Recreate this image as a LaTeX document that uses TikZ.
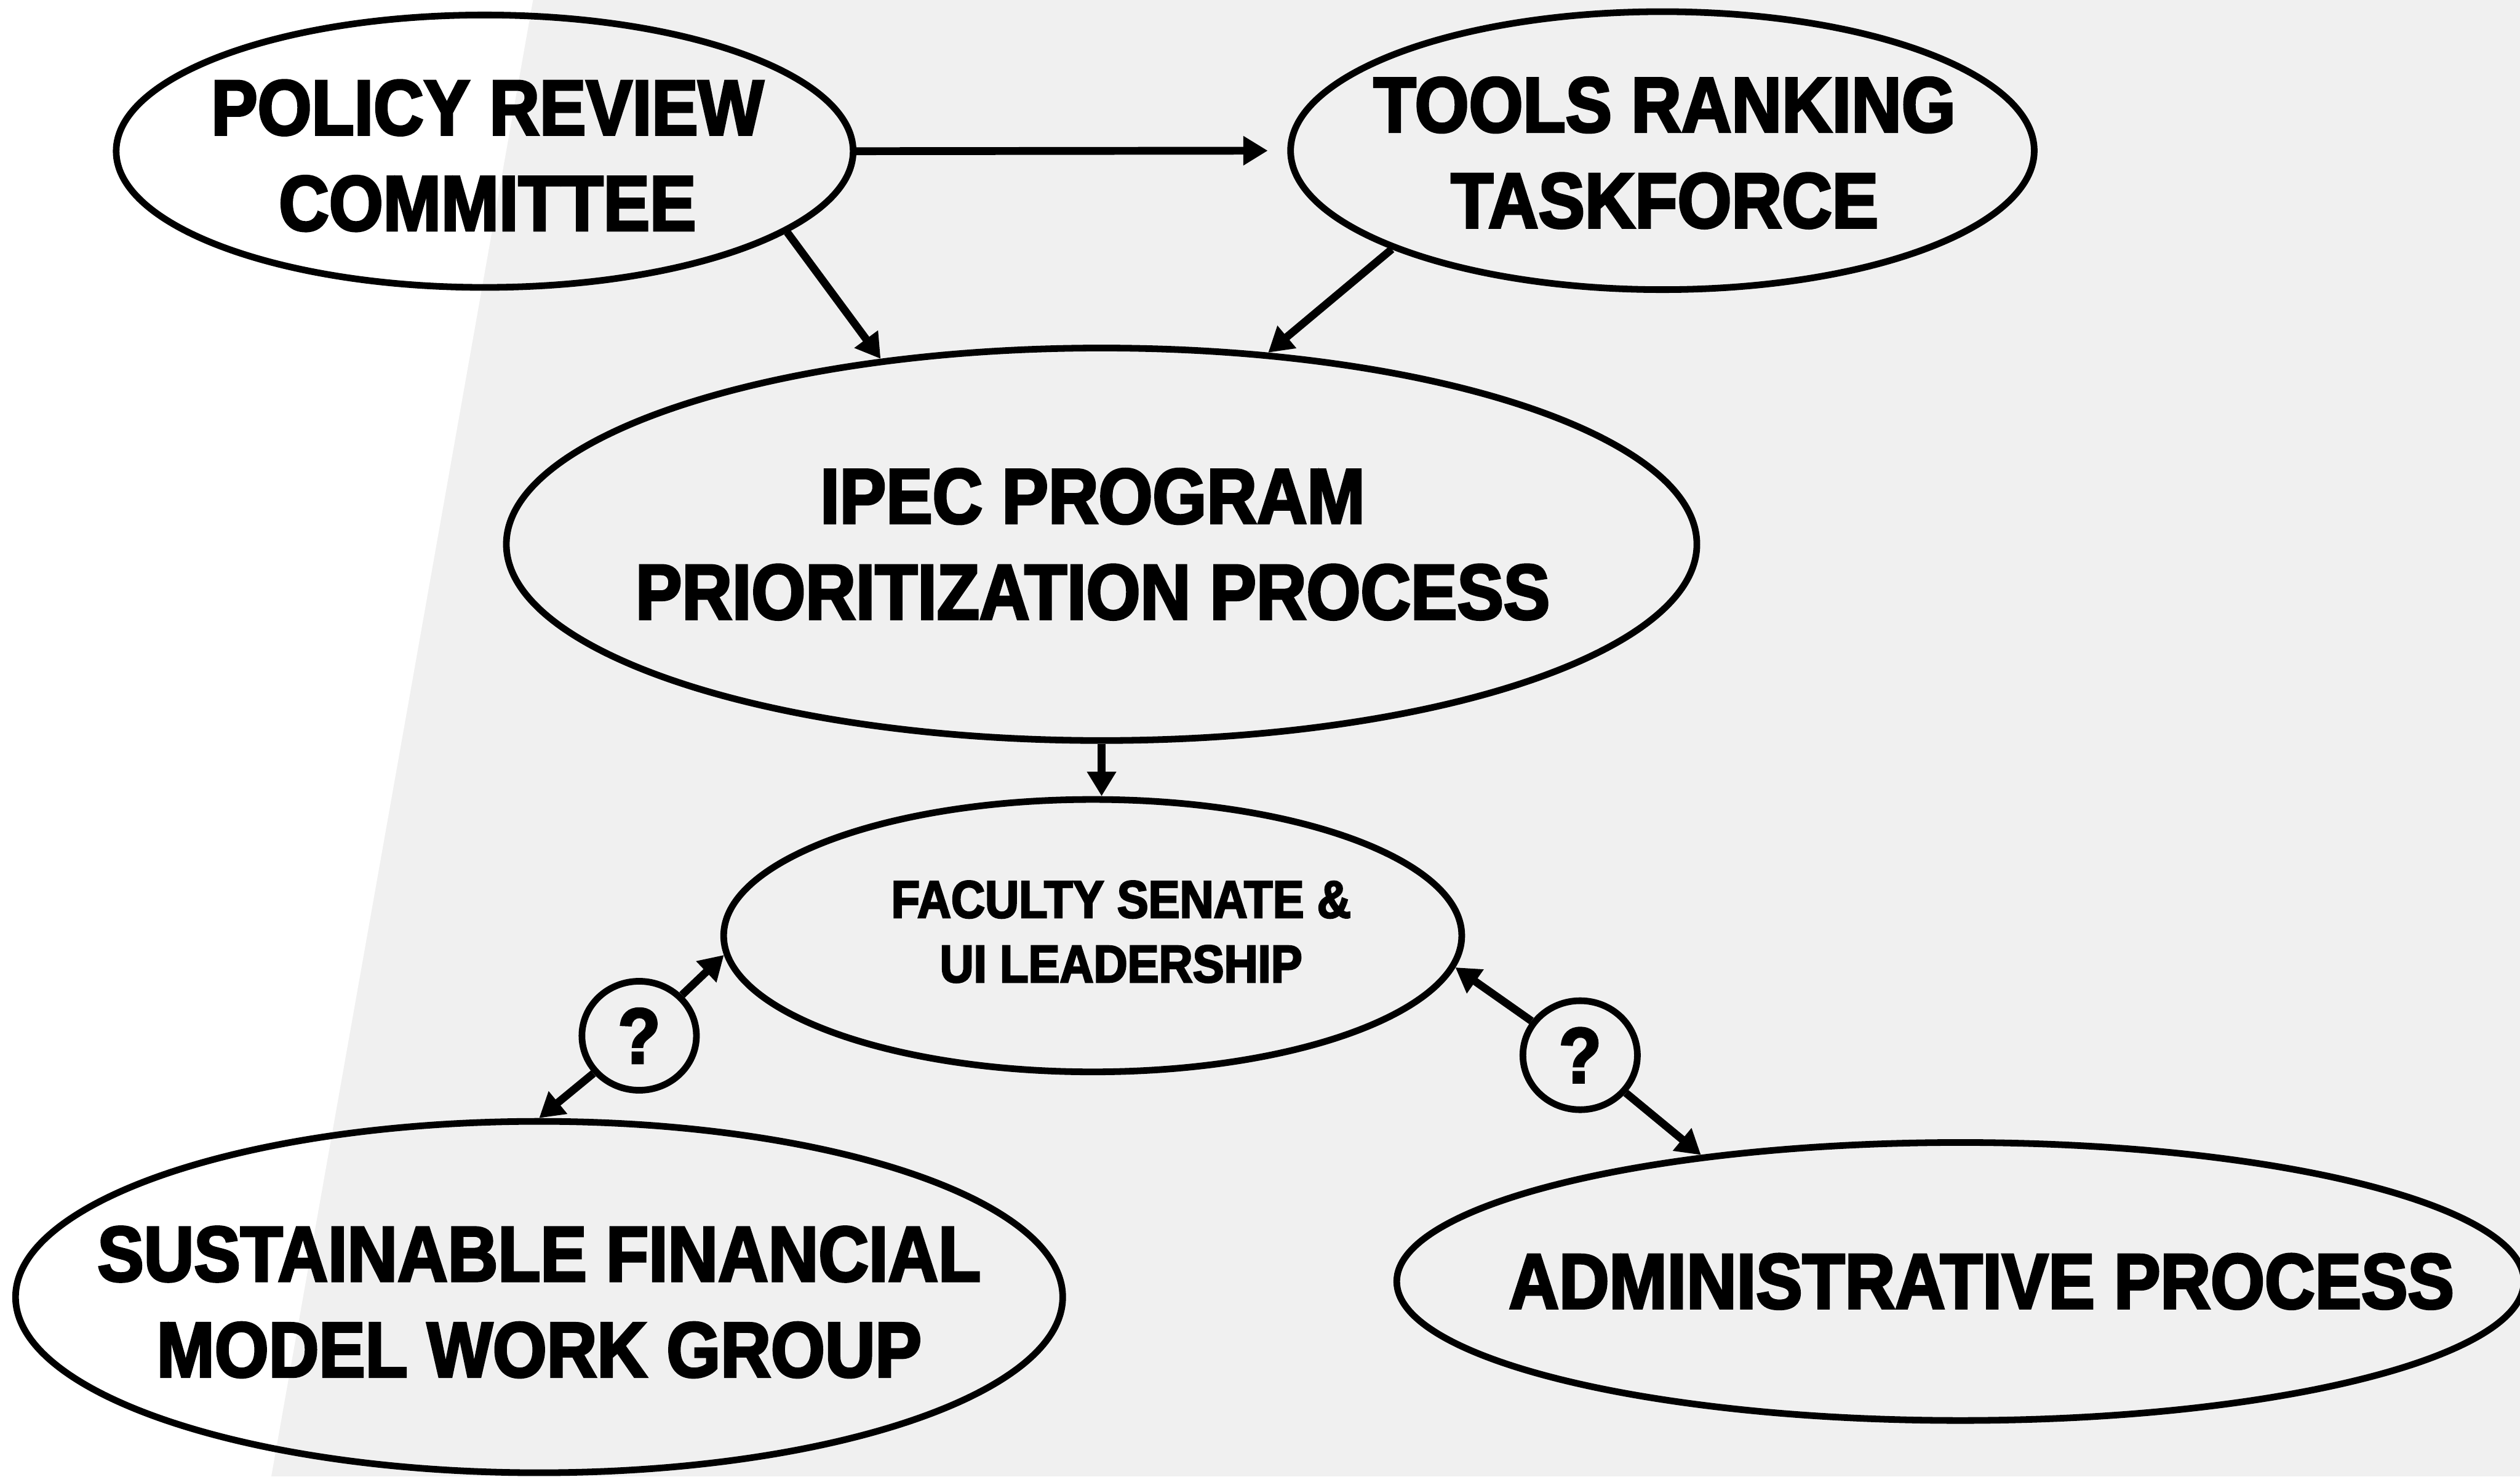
\documentclass[tikz,border=0pt]{standalone}
\usepackage{fontspec}
\newfontfamily\heavyfont{Liberation Sans}[BoldFeatures={FakeStretch=0.89,FakeBold=3}]
\usepackage{tikz}
\usetikzlibrary{arrows.meta,positioning,shapes.geometric}
\definecolor{slideGray}{HTML}{F0F0F0}
\tikzset{
  oval/.style={ellipse, draw=black, line width=3.4pt, inner sep=0pt},
  ovaltext/.style={align=center, font=\heavyfont\bfseries\fontsize{40}{49}\selectfont},
  ovalsmall/.style={align=center, font=\heavyfont\bfseries\fontsize{27}{33}\selectfont},
  duda/.style={ellipse, draw=black, line width=3.4pt, inner sep=0pt, minimum width=2.06cm, minimum height=1.96cm, font=\heavyfont\bfseries\fontsize{40}{49}\selectfont},
  arrflow/.style={-{Triangle[length=4.4mm, width=5mm]}, line width=4pt},
}

\begin{document}
\begin{tikzpicture}
\useasboundingbox (0,0) rectangle (45.34,26.56);
\fill[slideGray] (0,0) rectangle (45.34,26.56);
\fill[white] (0,0) -- (0,26.56) -- (9.59,26.56) -- (4.88,0) -- cycle;

\node[oval, minimum width=13.26cm, minimum height=4.90cm, label={[ovaltext, xshift=0.05cm, yshift=-0.08cm]center:POLICY REVIEW\\COMMITTEE}] (policy) at (8.72,23.84) {};
\node[oval, minimum width=13.38cm, minimum height=5.00cm, label={[ovaltext, xshift=0.04cm, yshift=-0.04cm]center:TOOLS RANKING\\TASKFORCE}] (tools) at (29.91,23.85) {};
\node[oval, minimum width=21.42cm, minimum height=7.06cm, label={[ovaltext, xshift=-0.16cm]center:IPEC PROGRAM\\PRIORITIZATION PROCESS}] (ipec) at (19.82,16.77) {};
\node[oval, minimum width=13.28cm, minimum height=4.90cm, label={[ovalsmall, xshift=0.51cm, yshift=0.07cm]center:FACULTY SENATE \&\\UI LEADERSHIP}] (senate) at (19.66,9.73) {};
\node[oval, minimum width=18.84cm, minimum height=6.32cm, label={[ovaltext, yshift=-0.09cm]center:SUSTAINABLE FINANCIAL\\MODEL WORK GROUP}] (finance) at (9.70,3.23) {};
\node[oval, minimum width=20.28cm, minimum height=5.00cm, label={[ovaltext, xshift=0.38cm]center:ADMINISTRATIVE PROCESS}] (admin) at (35.27,3.51) {};

\node[duda] (q1) at (11.50,7.93) {?};
\node[duda] (q2) at (28.43,7.58) {?};

\draw[arrflow, shorten >=3.5mm] (policy.east) -- (tools.west);
\draw[arrflow] (policy.-15) -- (ipec.140);
\draw[arrflow] (tools.200) -- (ipec.49);
\draw[arrflow] (ipec.south) -- (ipec.south |- senate.north);
\draw[arrflow] (q1) -- (senate.183);
\draw[arrflow] (q1) -- (finance.north);
\draw[arrflow] (q2) -- (senate.355);
\draw[arrflow] (q2) -- (admin.154);
\end{tikzpicture}
\end{document}
